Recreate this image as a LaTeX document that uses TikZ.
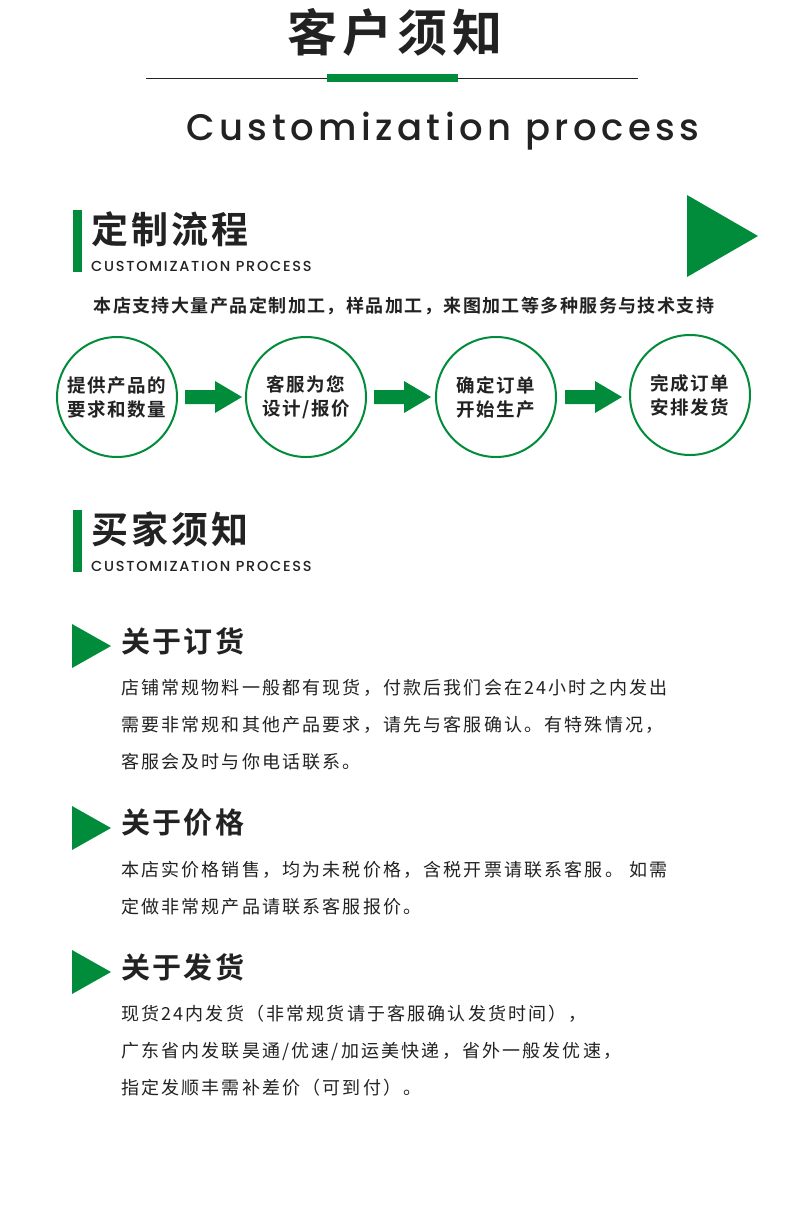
\documentclass[tikz,border=0pt]{standalone}
\usepackage{fontspec}
\setmainfont{Poppins}
\newfontfamily\cjk{Noto Sans CJK SC}
\newfontfamily\cjkb{Noto Sans CJK SC Bold}
\newfontfamily\popm{Poppins Medium}
\definecolor{gr}{HTML}{008C3A}
\definecolor{tx}{HTML}{222222}
\begin{document}
\begin{tikzpicture}[x=1pt,y=-1pt,
  body/.style={anchor=west,text=tx,font=\cjk\addfontfeatures{LetterSpace=12}\fontsize{18}{18}\selectfont,inner sep=0},
  head/.style={anchor=west,text=tx,font=\cjkb\addfontfeatures{LetterSpace=8}\fontsize{29}{29}\selectfont,inner sep=0},
  sect/.style={anchor=west,text=tx,font=\cjkb\addfontfeatures{LetterSpace=8}\fontsize{37}{37}\selectfont,inner sep=0},
  sub/.style={anchor=west,text=tx,font=\popm\addfontfeatures{LetterSpace=12}\fontsize{14.5}{14.5}\selectfont,inner sep=0},
  circ/.style={circle,draw=gr,line width=2pt,minimum size=120pt,align=center,text=tx,font=\cjkb\addfontfeatures{LetterSpace=8}\fontsize{18.5}{24}\selectfont,inner sep=0},
  barr/.style={fill=gr}]
\useasboundingbox (0,0) rectangle (790,1224);
\fill[white] (0,0) rectangle (790,1224);
\node[text=tx,font=\cjkb\addfontfeatures{LetterSpace=10}\fontsize{50}{50}\selectfont] (t) at (395,32) {客户须知};
\draw[tx,line width=0.8pt] (146,78) -- (638,78);
\fill[gr] (327,74) rectangle (458,82);
\node[text=tx,font=\popm\addfontfeatures{LetterSpace=12}\fontsize{37}{37}\selectfont] (ct) at (443,131) {Customization process};
% section 1
\fill[gr] (73,210) rectangle (82,272);
\node[sect] (s1) at (91,229) {定制流程};
\node[sub] (s1b) at (91,266) {CUSTOMIZATION PROCESS};
\fill[gr] (687,195) -- (687,277) -- (758,236) -- cycle;
\node[text=tx,font=\cjkb\addfontfeatures{LetterSpace=8}\fontsize{18}{18}\selectfont] (intro) at (404,306) {本店支持大量产品定制加工，样品加工，来图加工等多种服务与技术支持};
\node[circ] (c1) at (117,397) {提供产品的\\要求和数量};
\node[circ] (c2) at (306,397) {客服为您\\设计/报价};
\node[circ] (c3) at (496,397) {确定订单\\开始生产};
\node[circ] (c4) at (690,395) {完成订单\\安排发货};
\foreach \x in {185,374,565}{
  \fill[gr] (\x,390) -- (\x+30,390) -- (\x+30,381) -- (\x+57,397) -- (\x+30,413) -- (\x+30,404) -- (\x,404) -- cycle;}
% section 2
\fill[gr] (73,510) rectangle (82,572);
\node[sect] (s2) at (91,529) {买家须知};
\node[sub] (s2b) at (91,566) {CUSTOMIZATION PROCESS};
\fill[gr] (72,624) -- (72,668) -- (111,646) -- cycle;
\node[head] (h1) at (121,641) {关于订货};
\node[body] (b11) at (121,688) {店铺常规物料一般都有现货，付款后我们会在24小时之内发出};
\node[body] (b12) at (121,725) {需要非常规和其他产品要求，请先与客服确认。有特殊情况，};
\node[body] (b13) at (121,762) {客服会及时与你电话联系。};
\fill[gr] (72,806) -- (72,850) -- (111,828) -- cycle;
\node[head] (h2) at (121,823) {关于价格};
\node[body] (b21) at (121,870) {本店实价格销售，均为未税价格，含税开票请联系客服。 如需};
\node[body] (b22) at (121,907) {定做非常规产品请联系客服报价。};
\fill[gr] (72,950) -- (72,994) -- (111,972) -- cycle;
\node[head] (h3) at (121,967) {关于发货};
\node[body] (b31) at (121,1014) {现货24内发货（非常规货请于客服确认发货时间），};
\node[body] (b32) at (121,1051) {广东省内发联昊通/优速/加运美快递，省外一般发优速，};
\node[body] (b33) at (121,1088) {指定发顺丰需补差价（可到付）。};
\end{tikzpicture}
\end{document}
